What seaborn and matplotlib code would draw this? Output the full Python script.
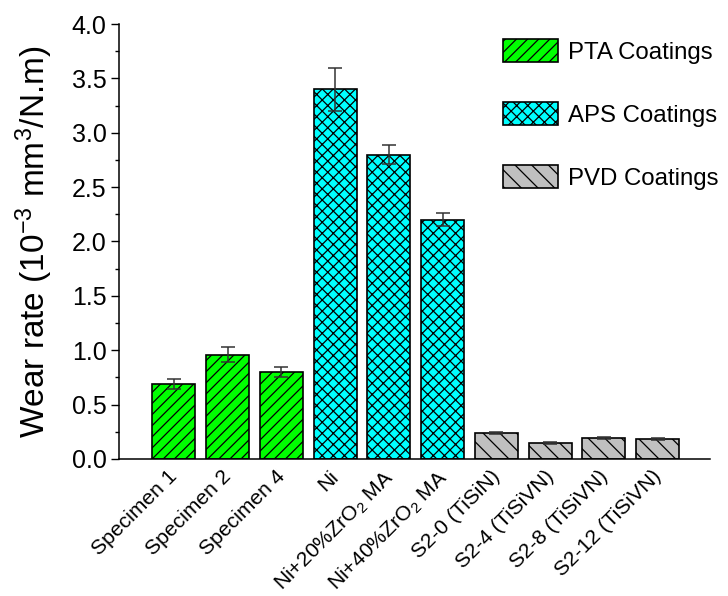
import matplotlib
matplotlib.use("Agg")
import matplotlib.pyplot as plt
import matplotlib.transforms as mtransforms
from matplotlib.patches import Patch
from matplotlib.ticker import MultipleLocator
import numpy as np
import pandas as pd
import seaborn as sns

categories = ["Specimen 1", "Specimen 2", "Specimen 4", "Ni",
              "Ni+20%ZrO$_2$ MA", "Ni+40%ZrO$_2$ MA",
              "S2-0 (TiSiN)", "S2-4 (TiSiVN)", "S2-8 (TiSiVN)", "S2-12 (TiSiVN)"]
wear_rate = [0.69, 0.96, 0.80, 3.40, 2.80, 2.20, 0.24, 0.15, 0.19, 0.18]
wear_err = [0.05, 0.07, 0.05, 0.20, 0.09, 0.06, 0.01, 0.01, 0.01, 0.01]
groups = ["PTA Coatings"] * 3 + ["APS Coatings"] * 3 + ["PVD Coatings"] * 4
group_names = ["PTA Coatings", "APS Coatings", "PVD Coatings"]
group_colors = ["#00FF00", "#00FFFF", "#C0C0C0"]
group_hatches = ["///", "xxx", "\\\\"]

sns.set_style("ticks")
plt.rcParams["font.family"] = ["Liberation Sans", "DejaVu Sans"]
plt.rcParams["mathtext.fontset"] = "custom"
plt.rcParams["mathtext.rm"] = "Liberation Sans"
plt.rcParams["mathtext.it"] = "Liberation Sans:italic"
plt.rcParams["mathtext.bf"] = "Liberation Sans:bold"
plt.rcParams["hatch.linewidth"] = 0.9
for k in ["text.color", "axes.labelcolor", "xtick.color", "ytick.color"]:
    plt.rcParams[k] = "black"

df = pd.DataFrame({"cat": categories, "val": wear_rate, "grp": groups})

fig = plt.figure(figsize=(7.28, 5.96), dpi=100)
ax = fig.add_axes([0.1635, 0.2299, 0.8115, 0.7298])

sns.barplot(data=df, x="cat", y="val", hue="grp", hue_order=group_names,
            palette=dict(zip(group_names, group_colors)), dodge=False,
            width=0.8, edgecolor="black", linewidth=1.2, legend=False, ax=ax,
            saturation=1)

for cont, h in zip(ax.containers, group_hatches):
    for bar in cont:
        bar.set_hatch(h)

# error bars at bar centres
xs = []
for cont in ax.containers:
    for bar in cont:
        xs.append(bar.get_x() + bar.get_width() / 2)
xs = np.sort(np.array(xs))
ax.errorbar(xs, wear_rate, yerr=wear_err, fmt="none", ecolor="#333333",
            elinewidth=1.1, capsize=5, capthick=1.1, zorder=5)

ax.set_ylim(0, 4.0)
ax.set_xlim(-1.02, 9.97)
ax.yaxis.set_major_locator(MultipleLocator(0.5))
ax.yaxis.set_minor_locator(MultipleLocator(0.25))
ax.yaxis.set_major_formatter(matplotlib.ticker.FormatStrFormatter("%.1f"))
ax.tick_params(axis="y", which="major", length=5.5, width=1, labelsize=18, direction="out")
ax.tick_params(axis="y", which="minor", length=3, width=1, direction="out")
ax.tick_params(axis="x", length=0, labelsize=15.2, pad=5)
sns.despine(ax=ax)
for s in ["left", "bottom"]:
    ax.spines[s].set_linewidth(1.1)
    ax.spines[s].set_color("black")

ax.set_xticks(range(len(categories)))
ax.set_xticklabels(categories, rotation=45, ha="right", va="top", rotation_mode="anchor")
offset = mtransforms.ScaledTranslation(-6 / 100, -1 / 100, fig.dpi_scale_trans)
for lbl in ax.get_xticklabels():
    lbl.set_transform(lbl.get_transform() + offset)
ax.set_xlabel("")
ax.set_ylabel("Wear rate (10$^{-3}$ mm$^{3}$/N.m)", fontsize=24, labelpad=12)

handles = [Patch(facecolor=c, edgecolor="black", hatch=h, linewidth=1.2, label=n)
           for n, c, h in zip(group_names, group_colors, group_hatches)]
ax.legend(handles=handles, loc="upper left", bbox_to_anchor=(503 / 728, 1 - 39 / 596),
          bbox_transform=fig.transFigure, frameon=False, fontsize=17.3,
          handlelength=2.3, handleheight=1.1, handletextpad=0.4,
          labelspacing=1.6, borderpad=0, borderaxespad=0)

fig.savefig("out.png", dpi=100)
